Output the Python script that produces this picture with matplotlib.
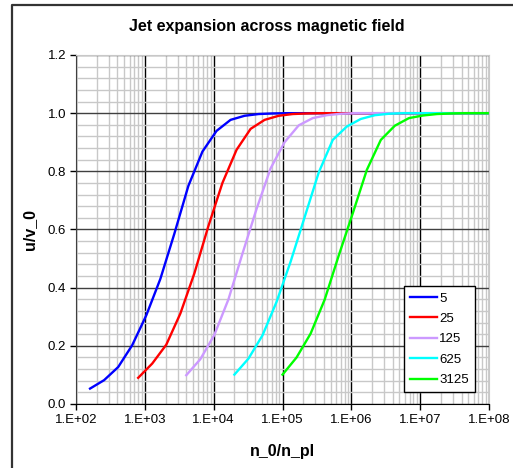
import numpy as np
import matplotlib
matplotlib.use("Agg")
import matplotlib.pyplot as plt
from matplotlib.ticker import LogLocator, MultipleLocator, FuncFormatter, NullFormatter
from matplotlib.lines import Line2D

plt.rcParams["font.family"] = ["Liberation Sans", "DejaVu Sans"]

# values
x_5 = [160, 256, 410, 655, 1050, 1680, 2680, 4290, 6870, 11000, 17600, 28100, 45000, 72000, 115000, 1e8]
u_5 = [0.053, 0.082, 0.127, 0.202, 0.305, 0.430, 0.585, 0.750, 0.868, 0.939, 0.977, 0.991, 0.997, 0.999, 1.0, 1.0]

x_25 = [800, 1280, 2050, 3280, 5240, 8390, 13400, 21500, 34400, 55000, 88000, 141000, 225000, 360000, 1e8]
u_25 = [0.090, 0.139, 0.204, 0.311, 0.449, 0.612, 0.760, 0.874, 0.946, 0.977, 0.991, 0.997, 0.999, 1.0, 1.0]

x_125 = [4000, 6400, 10200, 16400, 26200, 41900, 67100, 107000, 172000, 275000, 440000, 704000, 1130000, 1e8]
u_125 = [0.099, 0.154, 0.237, 0.360, 0.517, 0.670, 0.810, 0.900, 0.958, 0.983, 0.993, 0.998, 1.0, 1.0]

x_625 = [20000, 32000, 51200, 81900, 131000, 210000, 336000, 537000, 859000, 1370000, 2200000, 3520000, 5630000, 1e8]
u_625 = [0.101, 0.156, 0.236, 0.351, 0.489, 0.643, 0.796, 0.908, 0.954, 0.980, 0.993, 0.998, 1.0, 1.0]

x_3125 = [100000, 160000, 256000, 410000, 655000, 1050000, 1680000, 2680000, 4290000, 6870000,
          11000000, 17600000, 28100000, 45000000, 1e8]
u_3125 = [0.101, 0.160, 0.242, 0.359, 0.510, 0.656, 0.805, 0.908, 0.957, 0.983, 0.992, 0.997, 0.999, 1.0, 1.0]

series = [
    ("5", x_5, u_5, "#0000ff"),
    ("25", x_25, u_25, "#ff0000"),
    ("125", x_125, u_125, "#cc99ff"),
    ("625", x_625, u_625, "#00ffff"),
    ("3125", x_3125, u_3125, "#00ff00"),
]

W, H = 513, 468
fig = plt.figure(figsize=(W / 100, H / 100), dpi=100)
ax = fig.add_axes([76 / W, 1 - 404 / H, 413 / W, 349 / H])

# outer chart frame (only left and top edges visible)
fig.add_artist(Line2D([12 / W, 12 / W, 1.0], [0.0, 1 - 5 / H, 1 - 5 / H],
                      transform=fig.transFigure, color="#333333", lw=1.6))

for name, xs, us, col in series:
    ax.plot(xs, us, color=col, lw=1.7, label=name, solid_joinstyle="round")

ax.set_xscale("log")
ax.set_xlim(1e2, 1e8)
ax.set_ylim(0, 1.2)

ax.xaxis.set_major_locator(LogLocator(base=10, numticks=10))
ax.xaxis.set_minor_locator(LogLocator(base=10, subs=np.arange(2, 10), numticks=100))
ax.xaxis.set_major_formatter(FuncFormatter(lambda v, p: "1.E+%02d" % int(round(np.log10(v)))))
ax.xaxis.set_minor_formatter(NullFormatter())
ax.yaxis.set_major_locator(MultipleLocator(0.2))
ax.yaxis.set_minor_locator(MultipleLocator(0.04))
ax.yaxis.set_major_formatter(FuncFormatter(lambda v, p: "%.1f" % v))

ax.grid(which="minor", color="#c8c8c8", lw=1.0)
ax.grid(which="major", axis="x", color="#000000", lw=1.0)
ax.grid(which="major", axis="y", color="#404040", lw=1.0)
ax.set_axisbelow(True)

ax.tick_params(which="major", direction="out", length=4, width=1, labelsize=9.5, colors="#000000", pad=3)
ax.tick_params(which="minor", length=0)

for side in ("top", "right"):
    ax.spines[side].set_color("#c8c8c8")
ax.spines["left"].set_color("#404040")
ax.spines["bottom"].set_color("#000000")

fig.text(267 / W, 1 - 27 / H, "Jet expansion across magnetic field",
         fontsize=11.5, fontweight="bold", ha="center", va="center")
ax.set_xlabel("n_0/n_pl", fontsize=11.5, fontweight="bold", labelpad=13)
ax.set_ylabel("u/v_0", fontsize=11.5, fontweight="bold", labelpad=8)

leg = ax.legend(loc="lower right", bbox_to_anchor=(0.966, 0.034), borderaxespad=0,
                fontsize=9.5, frameon=True, fancybox=False, framealpha=1,
                handlelength=2.0, handletextpad=0.2, labelspacing=0.62,
                borderpad=0.45)
leg.get_frame().set_edgecolor("#000000")
leg.get_frame().set_linewidth(1.0)

fig.savefig("out.png", dpi=100)
